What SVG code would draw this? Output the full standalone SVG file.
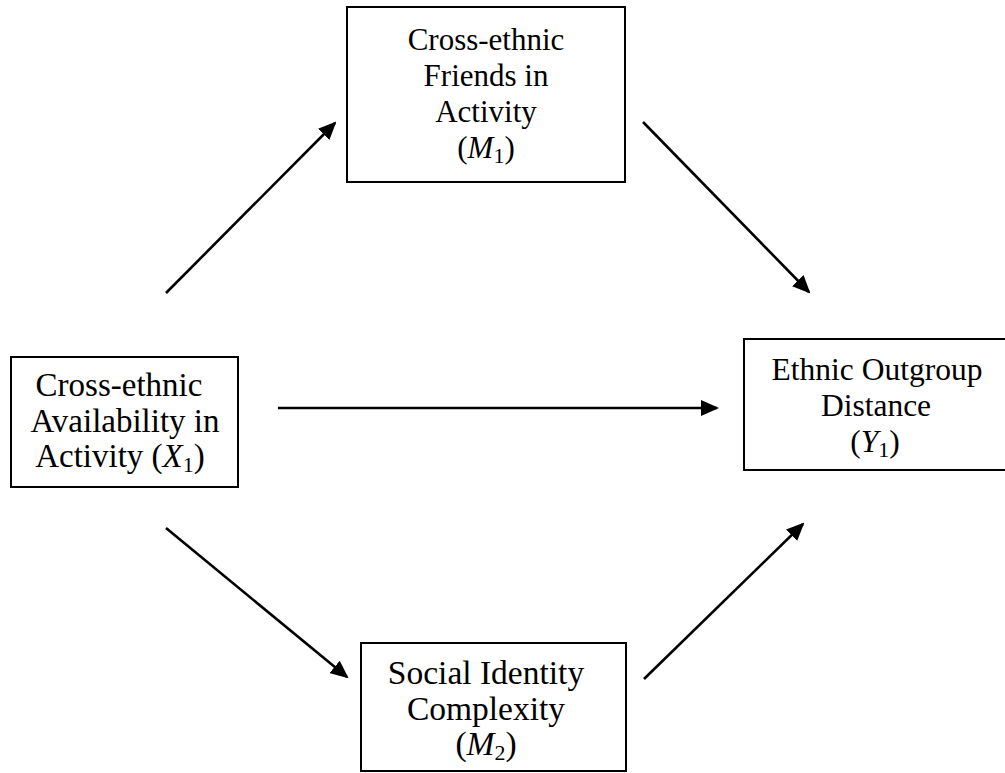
<svg xmlns="http://www.w3.org/2000/svg" width="1005" height="773" viewBox="0 0 1005 773">
<style>
.box{fill:#fff;stroke:#000;stroke-width:2}
.t{font-family:"Liberation Serif","Times New Roman",serif;font-size:32px;fill:#000;text-anchor:middle}
.i{font-style:italic}
.s{font-size:22px}
.c{stroke:#000;stroke-width:2.6;fill:none;marker-end:url(#ah)}
</style>
<defs>
<marker id="ah" markerUnits="userSpaceOnUse" markerWidth="18" markerHeight="16" viewBox="0 0 18 16" refX="16" refY="8" orient="auto">
<path d="M0,0 L18,8 L0,16 z" fill="#000"/>
</marker>
</defs>
<rect width="1005" height="773" fill="#fff"/>
<g id="connectors">
<line class="c" x1="166" y1="293" x2="335" y2="123"/>
<line class="c" x1="643" y1="122" x2="809" y2="292"/>
<line class="c" x1="278" y1="408" x2="717" y2="408"/>
<line class="c" x1="166" y1="528" x2="347" y2="677"/>
<line class="c" x1="644" y1="679" x2="803" y2="524"/>
</g>
<g id="m1">
<rect class="box" x="347" y="7" width="278" height="175"/>
<g class="t" style="font-size:31px">
<text class="t" style="font-size:31px" x="486" y="50">Cross-ethnic</text>
<text class="t" style="font-size:31px" x="486" y="86">Friends in</text>
<text class="t" style="font-size:31px" x="486" y="122">Activity</text>
<text class="t" style="font-size:31px" x="486" y="158">(<tspan class="i">M</tspan><tspan class="s" dy="5">1</tspan><tspan dy="-5">)</tspan></text>
</g>
</g>
<g id="x1">
<rect class="box" x="11" y="357" width="227" height="130"/>
<text class="t" style="font-size:33px" x="119" y="396">Cross-ethnic</text>
<text class="t" style="font-size:33px" x="125" y="432">Availability in</text>
<text class="t" style="font-size:33px" x="120" y="467">Activity (<tspan class="i">X</tspan><tspan class="s" dy="5">1</tspan><tspan dy="-5">)</tspan></text>
</g>
<g id="y1">
<rect class="box" x="744" y="339" width="280" height="131"/>
<text class="t" style="font-size:31.5px" x="877" y="380">Ethnic Outgroup</text>
<text class="t" style="font-size:31.5px" x="876" y="416">Distance</text>
<text class="t" style="font-size:31.5px" x="875" y="452">(<tspan class="i">Y</tspan><tspan class="s" dy="5">1</tspan><tspan dy="-5">)</tspan></text>
</g>
<g id="m2">
<rect class="box" x="361" y="643" width="265" height="128"/>
<text class="t" style="font-size:33.5px" x="486" y="684">Social Identity</text>
<text class="t" style="font-size:33.5px" x="486" y="720">Complexity</text>
<text class="t" style="font-size:33.5px" x="486" y="755">(<tspan class="i">M</tspan><tspan class="s" dy="5">2</tspan><tspan dy="-5">)</tspan></text>
</g>
</svg>
